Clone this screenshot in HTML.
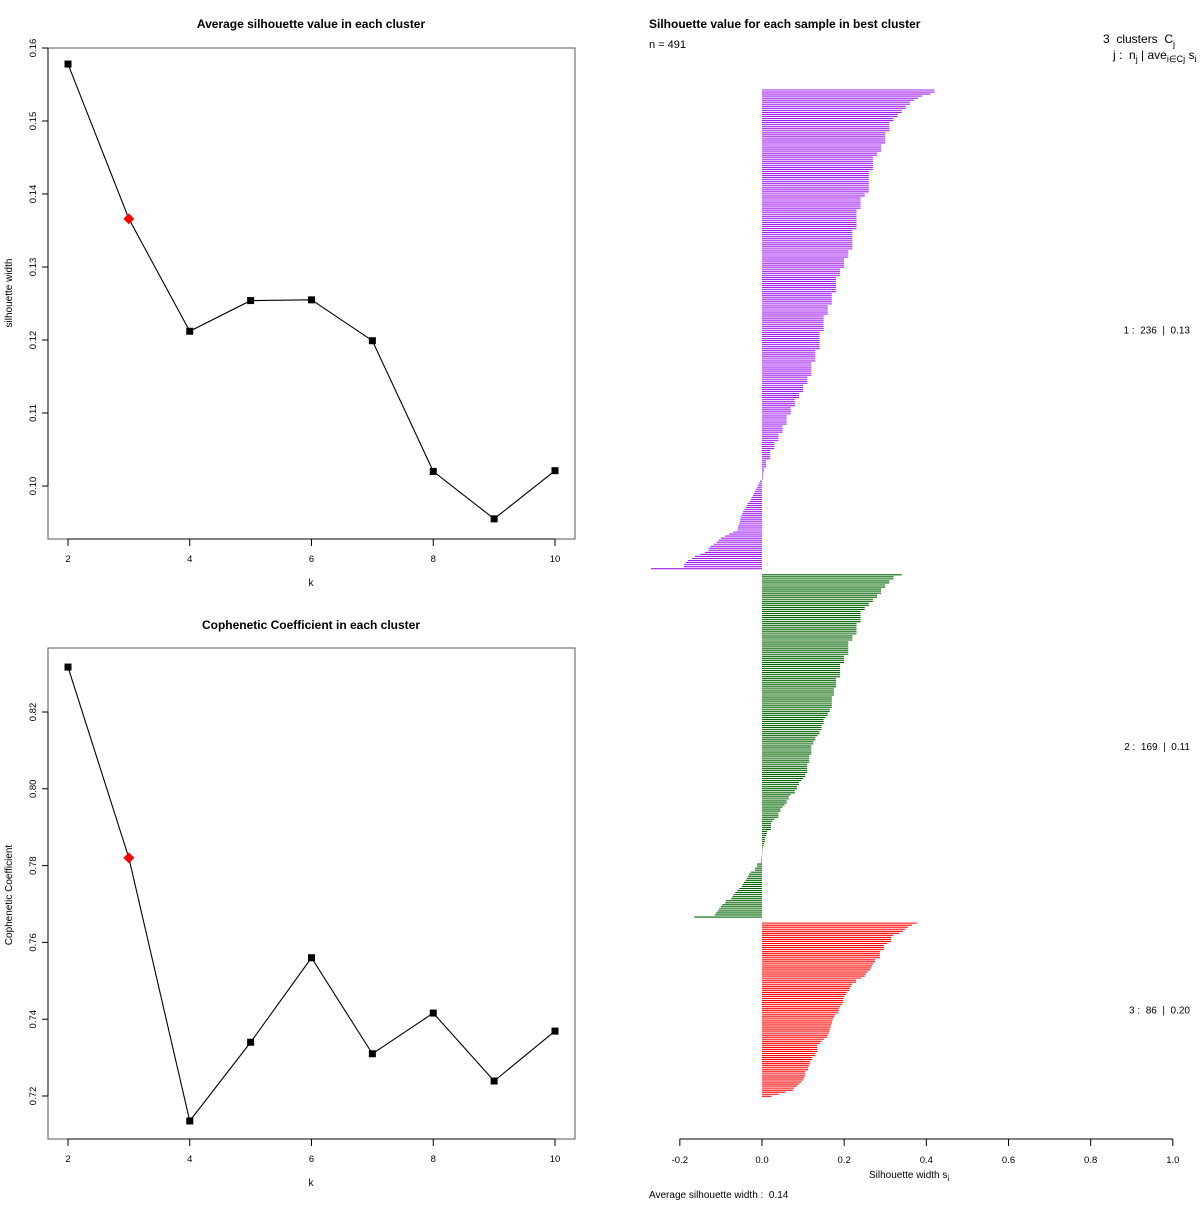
<!DOCTYPE html>
<html><head><meta charset="utf-8"><style>
body{margin:0;background:#fff;}
svg text{font-family:"Liberation Sans",sans-serif;white-space:pre;}
</style></head><body>
<svg id="root" width="1200" height="1200" xmlns="http://www.w3.org/2000/svg">
<g id="p1"></g>
<g id="p2"></g>
<g id="p3"></g>
</svg>
<script>
const ks = [2,3,4,5,6,7,8,9,10];
const silAvg = [0.1578,0.1366,0.1212,0.1254,0.1255,0.1199,0.1020,0.0955,0.1021];
const silTicks = [0.10,0.11,0.12,0.13,0.14,0.15,0.16];
const coph = [0.8317,0.782,0.7135,0.734,0.756,0.731,0.7416,0.7239,0.7369];
const cophTicks = [0.72,0.74,0.76,0.78,0.80,0.82];
const kTicks = [2,4,6,8,10];
const bestK = 3;
const c1 = [.42,.42,.41,.39,.38,.37,.36,.36,.35,.35,
.34,.34,.33,.33,.32,.32,.31,.31,.31,.31,
.31,.30,.30,.30,.30,.30,.30,.29,.29,.29,
.29,.28,.28,.27,.27,.27,.27,.27,.27,.27,
.26,.26,.26,.26,.26,.26,.26,.26,.26,.26,
.26,.25,.25,.24,.24,.24,.24,.24,.24,.23,
.23,.23,.23,.23,.23,.23,.23,.23,.23,.22,
.22,.22,.22,.22,.22,.22,.22,.22,.22,.21,
.21,.21,.21,.20,.20,.20,.20,.20,.19,.19,
.19,.19,.18,.18,.18,.18,.18,.18,.18,.18,
.17,.17,.17,.17,.17,.17,.16,.16,.16,.16,
.16,.15,.15,.15,.15,.15,.15,.15,.15,.14,
.14,.14,.14,.14,.14,.14,.14,.14,.13,.13,
.13,.13,.13,.13,.12,.12,.12,.12,.12,.12,
.12,.11,.11,.11,.11,.10,.10,.10,.10,.09,
.09,.09,.08,.08,.08,.08,.07,.07,.07,.07,
.06,.06,.06,.06,.06,.05,.05,.05,.05,.04,
.04,.04,.04,.03,.03,.03,.03,.02,.02,.02,
.02,.02,.01,.01,.01,.01,.005,.005,.003,.003,
.002,.002,
-.005,-.007,-.01,-.012,-.015,-.017,-.02,-.022,-.025,-.027,
-.03,-.035,-.037,-.04,-.043,-.046,-.048,-.05,-.052,-.053,
-.054,-.056,-.058,-.059,-.06,-.07,-.08,-.09,-.10,-.105,
-.11,-.117,-.125,-.13,-.13,-.139,-.15,-.163,-.17,-.18,
-.185,-.19,-.19,-.27];
const c2 = [.34,.32,.32,.31,.31,.30,.30,.29,.29,.29,
.28,.28,.27,.27,.26,.26,.25,.25,.24,.24,
.24,.24,.24,.24,.23,.23,.23,.23,.23,.23,
.22,.22,.22,.21,.21,.21,.21,.21,.21,.21,
.20,.20,.20,.20,.19,.19,.19,.19,.19,.19,
.19,.18,.18,.18,.18,.18,.175,.175,.175,.175,
.17,.17,.17,.17,.17,.17,.165,.165,.16,.16,
.155,.15,.15,.15,.145,.145,.145,.14,.14,.135,
.13,.13,.125,.125,.12,.12,.12,.12,.12,.115,
.115,.115,.115,.11,.11,.11,.11,.11,.105,.105,
.10,.095,.09,.09,.085,.085,.08,.08,.07,.065,
.065,.06,.06,.055,.05,.045,.045,.04,.04,.04,
.03,.025,.022,.022,.022,.022,.012,.012,.01,.008,
.007,.007,.005,.004,.002,.001,.001,.001,
-.001,-.001,-.002,-.002,
-.012,-.012,-.017,-.017,-.027,-.032,-.034,-.037,-.04,-.044,-.047,-.049,-.055,-.06,-.065,-.07,-.072,-.075,-.088,-.09,-.097,-.1,-.105,-.108,-.112,-.115,-.165];
const c3 = [.377,.365,.355,.348,.343,.334,.319,.314,.314,.314,
.304,.297,.297,.297,.287,.287,.287,.287,.275,.275,
.27,.268,.265,.263,.256,.253,.25,.241,.229,.229,
.219,.216,.214,.212,.206,.204,.2,.199,.197,.197,
.195,.19,.187,.187,.185,.178,.176,.173,.171,.17,
.168,.167,.165,.164,.163,.16,.158,.151,.145,.141,
.134,.134,.134,.134,.129,.129,.122,.122,.117,.116,
.114,.112,.112,.105,.105,.105,.102,.1,.095,.09,
.085,.078,.075,.056,.041,.022];
const clusterColors = ['#A020F0','#006400','#FF0000'];
const clusterLabels = ['1 :  236  |  0.13','2 :  169  |  0.11','3 :  86  |  0.20'];
const sTicks = [-0.2,0.0,0.2,0.4,0.6,0.8,1.0];
const avgWidth = '0.14';

const NS='http://www.w3.org/2000/svg';
function mk(parent,tag,attrs,text){const e=document.createElementNS(NS,tag);for(const k in attrs)e.setAttribute(k,attrs[k]);if(text!==undefined)e.textContent=text;parent.appendChild(e);return e;}

function drawLine(g,vals,ticks,digits,y0,y1,v0,v1,boxTop,boxBot,titleY,title,ylab,ylabY){
  const L=48,R=575;
  const xs=k=>68+(k-2)*(555-68)/8;
  const ys=v=>y0-(v-v0)/(v1-v0)*(y0-y1);
  const box=mk(g,'rect',{x:L,y:boxTop,width:R-L,height:boxBot-boxTop,fill:'none',stroke:'#555','stroke-width':1});
  
  
  const t=mk(g,'text',{x:311,y:titleY,'text-anchor':'middle','font-size':12,'font-weight':'bold'},title);
  
  
  const xa=mk(g,'g',{});
  
  
  mk(xa,'line',{x1:xs(kTicks[0]),x2:xs(kTicks[kTicks.length-1]),y1:boxBot,y2:boxBot,stroke:'#000'});
  kTicks.forEach(k=>{mk(xa,'line',{x1:xs(k),x2:xs(k),y1:boxBot,y2:boxBot+7,stroke:'#000'});
    const l=mk(xa,'text',{x:xs(k),y:boxBot+23,'text-anchor':'middle','font-size':9.5},String(k));
    
    });
  const xl=mk(g,'text',{x:311,y:boxBot+47,'text-anchor':'middle','font-size':10},'k');
  
  
  const ya=mk(g,'g',{});
  
  
  mk(ya,'line',{x1:L,x2:L,y1:ys(ticks[0]),y2:ys(ticks[ticks.length-1]),stroke:'#000'});
  ticks.forEach(v=>{const y=ys(v);mk(ya,'line',{x1:L-6,x2:L,y1:y,y2:y,stroke:'#000'});
    const l=mk(ya,'text',{x:36,y:y,'text-anchor':'middle','font-size':9.5,transform:`rotate(-90 36 ${y})`},v.toFixed(digits));
    
    });
  const yl=mk(g,'text',{x:12,y:ylabY,'text-anchor':'middle','font-size':10,transform:`rotate(-90 12 ${ylabY})`},ylab);
  
  
  const pts=ks.map((k,i)=>xs(k)+','+ys(vals[i])).join(' ');
  const pl=mk(g,'polyline',{points:pts,fill:'none',stroke:'#000','stroke-width':1.1});
  
  
  ks.forEach((k,i)=>{const x=xs(k),y=ys(vals[i]);let m;
    if(k===bestK){m=mk(g,'polygon',{points:`${x},${y-5.5} ${x+5.5},${y} ${x},${y+5.5} ${x-5.5},${y}`,fill:'#f00'});
      }
    else{m=mk(g,'rect',{x:x-3.5,y:y-3.5,width:7,height:7,fill:'#000'});
      }
    });
}
drawLine(document.getElementById('p1'),silAvg,silTicks,2,486,121,0.10,0.15,48,539,28,'Average silhouette value in each cluster','silhouette width',293);
drawLine(document.getElementById('p2'),coph,cophTicks,2,1096,712,0.72,0.82,648,1139,629,'Cophenetic Coefficient in each cluster','Cophenetic Coefficient',895);

const g3=document.getElementById('p3');
const sx=v=>762+v*(1173-680)/1.2;
const step=2.037, y0=90;
let slot=0;
[c1,c2,c3].forEach((arr,ci)=>{
  const cg=mk(g3,'g',{});
  
  
  const start=slot;
  arr.forEach(v=>{const y=y0+slot*step;
    const b=mk(cg,'line',{x1:sx(0),x2:sx(v),y1:y,y2:y,stroke:clusterColors[ci],'stroke-width':1.1});
    
    
    slot++;});
  const mid=y0+(start+slot-1)/2*step;
  const lab=mk(g3,'text',{x:1190,y:mid+4,'text-anchor':'end','font-size':10},clusterLabels[ci]);
  
  
  slot+=2;
});
const sa=mk(g3,'g',{});


mk(sa,'line',{x1:sx(sTicks[0]),x2:sx(sTicks[sTicks.length-1]),y1:1139,y2:1139,stroke:'#000'});
sTicks.forEach(v=>{mk(sa,'line',{x1:sx(v),x2:sx(v),y1:1139,y2:1146,stroke:'#000'});
  const l=mk(sa,'text',{x:sx(v),y:1163,'text-anchor':'middle','font-size':9.5},v.toFixed(1));
  
  });
const st=mk(g3,'text',{x:649,y:28,'font-size':12,'font-weight':'bold'},'Silhouette value for each sample in best cluster');


const nt=mk(g3,'text',{x:649,y:48,'font-size':11},'n = 491');


const h1=mk(g3,'text',{x:1103,y:43,'font-size':12},'3  clusters  C');


mk(h1,'tspan',{'font-size':9,dy:4},'j');
const h2=mk(g3,'text',{x:1113,y:59,'font-size':12},'j :  n');


mk(h2,'tspan',{'font-size':9,dy:3},'j');
mk(h2,'tspan',{dy:-3},' | ave');
mk(h2,'tspan',{'font-size':9,dy:3},'i∈Cj');
mk(h2,'tspan',{dy:-3},' s');
mk(h2,'tspan',{'font-size':9,dy:3},'i');
const xt=mk(g3,'text',{x:869,y:1178,'font-size':10},'Silhouette width s');


mk(xt,'tspan',{'font-size':8,dy:3},'i');
const aw=mk(g3,'text',{x:649,y:1198,'font-size':10},'Average silhouette width :  '+avgWidth);


</script>
</body></html>
